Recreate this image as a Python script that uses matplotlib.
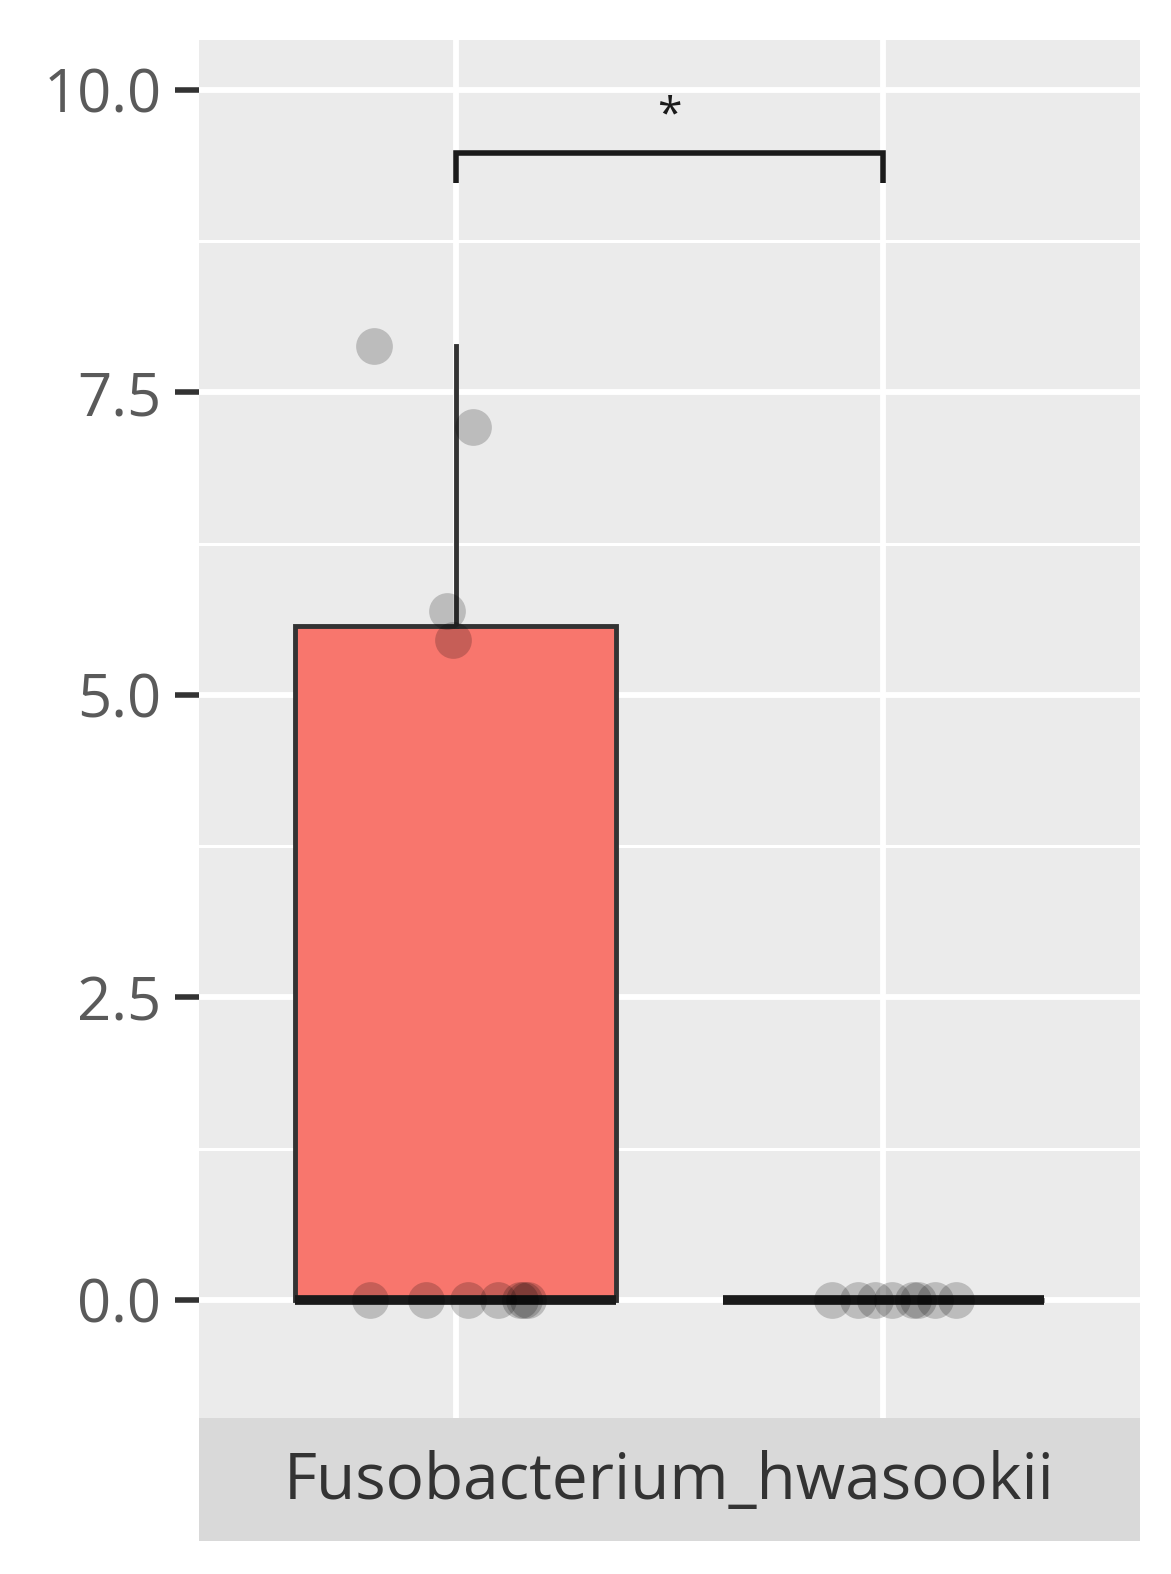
import numpy as np
import matplotlib.pyplot as plt

plt.rcParams['font.family'] = ['Open Sans', 'DejaVu Sans']

# data
species = 'Fusobacterium_hwasookii'
groups = [1, 2]
group1 = [7.88, 7.21, 5.69, 5.45, 0, 0, 0, 0, 0, 0, 0]
group2 = [0, 0, 0, 0, 0, 0, 0, 0]
jitter1 = [-0.19, 0.04, -0.02, -0.005, -0.20, -0.07, 0.03, 0.10, 0.15, 0.16, 0.17]
jitter2 = [-0.12, -0.06, -0.02, 0.02, 0.07, 0.08, 0.12, 0.17]
yticks = [0.0, 2.5, 5.0, 7.5, 10.0]
sig_label = '*'
sig_y = 9.48

fig = plt.figure(figsize=(11.71, 15.74), dpi=100)
ax = fig.add_axes([199 / 1171, 1 - 1418 / 1574, 941 / 1171, 1378 / 1574])
ax.set_facecolor('#EBEBEB')

# grid like ggplot
for y in np.arange(1.25, 10.5, 2.5):
    ax.axhline(y, color='white', lw=2.2, zorder=0)
for y in yticks:
    ax.axhline(y, color='white', lw=4.2, zorder=0)
for x in groups:
    ax.axvline(x, color='white', lw=4.2, zorder=0)

bp = ax.boxplot([group1, group2], positions=groups, widths=0.75, patch_artist=True,
                showfliers=False, whis=1.5, zorder=2,
                boxprops=dict(facecolor='#F8766D', edgecolor='#333333', linewidth=3.5),
                whiskerprops=dict(color='#333333', linewidth=3.5),
                capprops=dict(linewidth=0),
                medianprops=dict(color='#1a1a1a', linewidth=7))
bp['boxes'][1].set_facecolor('#00BFC4')

ax.scatter(np.array(jitter1) + groups[0], group1, s=700, color='black', alpha=0.2,
           linewidths=0, zorder=3)
ax.scatter(np.array(jitter2) + groups[1], group2, s=700, color='black', alpha=0.2,
           linewidths=0, zorder=3)

# significance bracket
ax.plot([groups[0], groups[0], groups[1], groups[1]], [sig_y - 0.25, sig_y, sig_y, sig_y - 0.25],
        color='#1a1a1a', lw=4, solid_capstyle='butt', solid_joinstyle='miter', zorder=4)
ax.text(np.mean(groups), sig_y + 0.12, sig_label, ha='center', va='bottom', fontsize=32,
        color='#1a1a1a')

ax.set_xlim(0.4, 2.6)
ax.set_ylim(-0.975, 10.41)
ax.set_xticks([])
ax.set_yticks(yticks)
ax.set_yticklabels([f'{v:.1f}' for v in yticks])
ax.tick_params(axis='y', length=17, width=4, color='#333333', labelsize=43,
               labelcolor='#5a5a5a', pad=10)
for s in ax.spines.values():
    s.set_visible(False)

# facet strip at the bottom
strip = fig.add_axes([199 / 1171, 1 - 1541 / 1574, 941 / 1171, 123 / 1574])
strip.set_facecolor('#D9D9D9')
strip.set_xticks([])
strip.set_yticks([])
for s in strip.spines.values():
    s.set_visible(False)
strip.text(0.5, 0.48, species, ha='center', va='center', fontsize=46, color='#333333',
           transform=strip.transAxes)

fig.savefig('out.png', dpi=100)
